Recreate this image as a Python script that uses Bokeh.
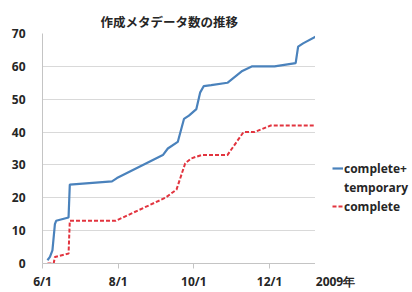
import pandas as pd
from bokeh.plotting import figure
from bokeh.layouts import row
from bokeh.models import (Range1d, FixedTicker, CustomJSTickFormatter, Legend, LegendItem,
                          SingleIntervalTicker, Title, LinearAxis, ColumnDataSource)
from bokeh.embed import file_html
from bokeh.resources import INLINE

# ---- data ----
title_text = "作成メタデータ数の推移"
series_names = ["complete+", "temporary", "complete"]
year_label = "2009年"

blue_dates = ["2009-06-05", "2009-06-07", "2009-06-09", "2009-06-11", "2009-06-12",
              "2009-06-22", "2009-06-23", "2009-07-27", "2009-07-31", "2009-09-06",
              "2009-09-10", "2009-09-18", "2009-09-23", "2009-09-27", "2009-10-03",
              "2009-10-06", "2009-10-09", "2009-10-15", "2009-10-28", "2009-11-09",
              "2009-11-17", "2009-12-05", "2009-12-22", "2009-12-24", "2009-12-28",
              "2010-01-07"]
blue_vals = [1, 2, 4, 12, 13, 14, 24, 25, 26, 33, 35, 37, 44, 45, 47, 52, 54, 54.3,
             55, 58.6, 60, 60, 61, 66, 67, 69]

red_dates = ["2009-06-05", "2009-06-10", "2009-06-11", "2009-06-22", "2009-06-23",
             "2009-07-30", "2009-09-08", "2009-09-17", "2009-09-24", "2009-09-29",
             "2009-10-07", "2009-10-28", "2009-11-10", "2009-11-19", "2009-12-02",
             "2010-01-07"]
red_vals = [0, 0, 2, 3, 13, 13, 20, 22.5, 30.5, 32, 33, 33, 40, 40, 42, 42]

x_tick_dates = ["2009-06-01", "2009-08-01", "2009-10-01", "2009-12-01"]
x_start, x_end = "2009-06-01", "2010-01-07"
y_start, y_end, y_step = 0, 70, 10

def ms(s):
    return pd.Timestamp(s).value / 1e6

BLUE = "#4A82BC"
RED = "#E2343F"
TXT = "#262626"
GRID = "#D9D9D9"
AXIS = "#C4C4C4"
FONT = "Open Sans"
BLUE_W, RED_W, RED_DASH = 2.2, 2, "4 2"

blue_src = ColumnDataSource(dict(x=pd.to_datetime(blue_dates), y=blue_vals))
red_src = ColumnDataSource(dict(x=pd.to_datetime(red_dates), y=red_vals))

# ---- main chart ----
p = figure(width=315, height=292, output_backend="svg", toolbar_location=None,
           x_axis_type="datetime",
           x_range=Range1d(ms(x_start), ms(x_end)),
           y_range=Range1d(y_start, y_end),
           min_border_left=42, min_border_right=0, min_border_top=33, min_border_bottom=28)
p.outline_line_color = None
p.background_fill_color = "white"
p.border_fill_color = "white"

p.title = Title(text=title_text, align="left", offset=58, text_font="Noto Sans CJK JP",
                text_font_size="12.5px", text_font_style="bold", text_color=TXT, standoff=6)

p.line("x", "y", source=blue_src, line_color=BLUE, line_width=BLUE_W)
p.line("x", "y", source=red_src, line_color=RED, line_width=RED_W, line_dash=RED_DASH)

p.xaxis.ticker = FixedTicker(ticks=[ms(d) for d in x_tick_dates])
p.xaxis.formatter = CustomJSTickFormatter(code="""
    const d = new Date(tick);
    return (d.getUTCMonth() + 1) + "/" + d.getUTCDate();
""")
p.yaxis.ticker = SingleIntervalTicker(interval=y_step)

def style_axis(ax):
    ax.axis_line_color = AXIS
    ax.major_tick_line_color = AXIS
    ax.minor_tick_line_color = None
    ax.major_label_text_font = FONT
    ax.major_label_text_font_size = "12px"
    ax.major_label_text_font_style = "bold"
    ax.major_label_text_color = TXT
    ax.major_tick_in = 0

style_axis(p.xaxis[0])
style_axis(p.yaxis[0])
p.xaxis.major_tick_out = 5
p.xaxis.major_label_standoff = 4
p.yaxis.major_tick_out = 0
p.yaxis.major_label_standoff = 13

p.xgrid.grid_line_color = None
p.ygrid.grid_line_color = GRID
p.ygrid.grid_line_width = 1

# ---- side panel: legend and year label (frames are aligned with the main chart) ----
s = figure(width=97, height=292, output_backend="svg", toolbar_location=None,
           x_range=Range1d(0, 97), y_range=Range1d(0, 1),
           x_axis_location=None, y_axis_location=None,
           min_border=0, min_border_left=0, min_border_right=0,
           min_border_top=0, min_border_bottom=0)
s.outline_line_color = None
s.grid.visible = False
s.background_fill_color = "white"
s.border_fill_color = "white"

# legend entries share the series' sources; the series lie outside this panel's ranges
lb = s.line("x", "y", source=blue_src, line_color=BLUE, line_width=BLUE_W)
lr = s.line("x", "y", source=red_src, line_color=RED, line_width=RED_W, line_dash=RED_DASH)

legend = Legend(items=[LegendItem(label=series_names[0], renderers=[lb]),
                       LegendItem(label=series_names[1], renderers=[]),
                       LegendItem(label=series_names[2], renderers=[lr])],
                location=(17, 48), margin=0, padding=0, spacing=1,
                glyph_width=11, glyph_height=18, label_height=18, label_standoff=1,
                label_text_font=FONT, label_text_font_size="12px", label_text_font_style="bold",
                label_text_color=TXT, border_line_color=None, background_fill_alpha=0)
s.add_layout(legend, "center")

year_axis = LinearAxis(ticker=FixedTicker(ticks=[20]), major_label_overrides={20: year_label})
style_axis(year_axis)
year_axis.axis_line_color = None
year_axis.major_tick_line_color = None
year_axis.major_tick_out = 5
year_axis.major_label_standoff = 4
s.add_layout(year_axis, "below")

layout = row(p, s, spacing=0)
open("out.html", "w").write(file_html(layout, INLINE))
